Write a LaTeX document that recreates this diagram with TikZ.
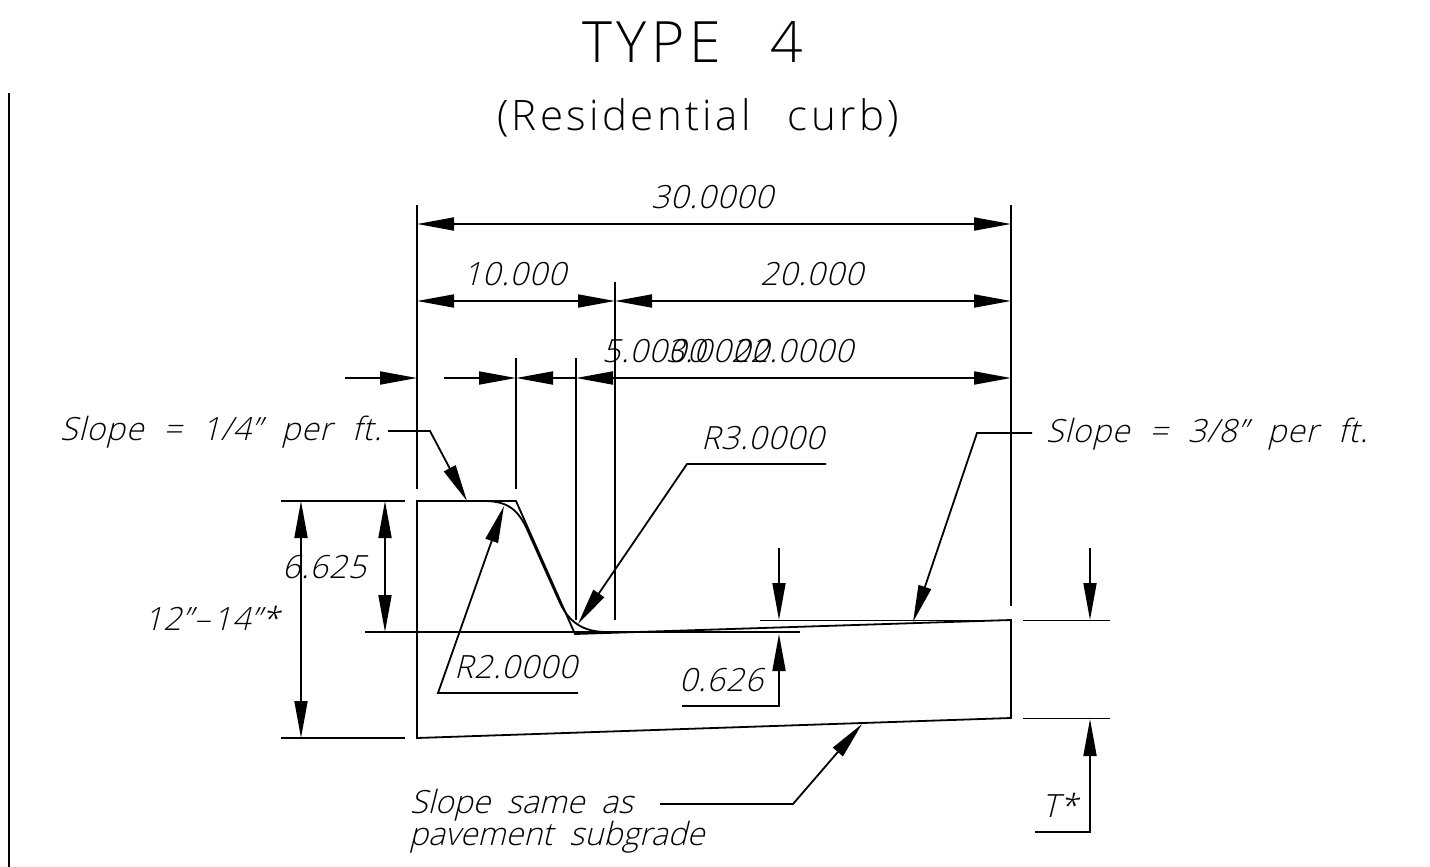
\documentclass[tikz,border=0pt]{standalone}
\usepackage{fontspec}
\usetikzlibrary{arrows.meta}
\newfontfamily\cadtitle[LetterSpace=8,WordSpace=2.5]{Open Sans Light}
\newfontfamily\cadsub[LetterSpace=8,WordSpace=2.6]{Open Sans Light}
\newfontfamily\cadit[FakeSlant=0.25,LetterSpace=2.5,WordSpace=2.2]{Open Sans Light}
\newfontfamily\caditb[FakeSlant=0.25,LetterSpace=0,WordSpace=2]{Open Sans Light}
\tikzset{
  x=1pt,y=-1pt,
  cad/.style={line width=1.8pt,line cap=butt,line join=miter,black},
  dimtip/.tip={Triangle[length=37pt,width=13pt,inset=0pt]},
  arr/.style={cad,-{dimtip}},
  both/.style={cad,{dimtip}-{dimtip}},
  lab/.style={anchor=base west,inner sep=0pt,font=\cadit\fontsize{32}{36}\selectfont},
  labb/.style={anchor=base west,inner sep=0pt,font=\caditb\fontsize{32}{36}\selectfont},
}
\begin{document}
\begin{tikzpicture}
\useasboundingbox (0,0) rectangle (1430,867);
% titles
\node[anchor=base west,inner sep=0pt,font=\cadtitle\fontsize{57}{60}\selectfont] (title) at (582,63) {TYPE 4};
\node[anchor=base west,inner sep=0pt,font=\cadsub\fontsize{42}{46}\selectfont] (subtitle) at (497,130) {(Residential curb)};
% border
\draw[cad] (9,93) -- (9,867);
% extension lines
\draw[cad] (417,205) -- (417,489);
\draw[cad] (1011,205) -- (1011,606);
\draw[cad] (516,358) -- (516,489);
\draw[cad] (576,358) -- (576,620);
\draw[cad] (615,282) -- (615,620);
\draw[cad] (281,501) -- (405,501);
\draw[cad] (281,738) -- (405,738);
\draw[cad] (365,632) -- (800,632);
\draw[cad] (760,620.5) -- (1007,620.5);
\draw[cad] (1023,620.5) -- (1110,620.5);
\draw[cad] (1023,718.5) -- (1110,718.5);
% body
\draw[cad] (516,501) -- (417,501) -- (417,738) -- (1011,718) -- (1011,620) -- (575,634) -- cycle;
\draw[cad] (483,501) .. controls (505,501) and (516,507) .. (526,527) -- (560,603) .. controls (570,624) and (585,632) .. (607,632);
% dimensions
\draw[both] (417,224) -- (1011,224);
\draw[both] (417,301) -- (615,301);
\draw[both] (615,301) -- (1011,301);
\draw[arr] (345,378) -- (417,378);
\draw[arr] (444,378) -- (516,378);
\draw[arr] (576,378) -- (516,378);
\draw[arr] (615,378) -- (576,378);
\draw[arr] (615,378) -- (1011,378);
\draw[both] (301,501) -- (301,738);
\draw[both] (385,501) -- (385,632);
\draw[arr] (779,548) -- (779,620);
\draw[arr] (682,706) -- (779,706) -- (779,634);
\draw[arr] (1090,548) -- (1090,620);
\draw[arr] (1035,832) -- (1090,832) -- (1090,719);
% leaders
\draw[arr] (388,431) -- (430,431) -- (467,501);
\draw[arr] (826,464) -- (687,464) -- (578,624);
\draw[arr] (1032,433) -- (977,433) -- (913,622);
\draw[arr] (578,693) -- (438,693) -- (504,506);
\draw[arr] (660,804) -- (793,804) -- (862,724);
% labels
\node[lab] (d30) at (651,208) {30.0000};
\node[lab] (d10) at (463,285) {10.000};
\node[lab] (d20) at (760,285) {20.000};
\node[lab] (d5) at (602,362) {5.0000};
\node[lab] (d3) at (666,362) {3.0000};
\node[lab] (d22) at (731,362) {22.0000};
\node[lab] (s14) at (60,440) {Slope = 1/4” per ft.};
\node[lab] (r3) at (701,449) {R3.0000};
\node[lab] (s38) at (1046,442) {Slope = 3/8” per ft.};
\node[lab] (d6) at (282,578) {6.625};
\node[lab] (d12) at (144,630) {12”\kern2pt–\kern3pt14”*};
\node[lab] (r2) at (454,678) {R2.0000};
\node[lab] (d0) at (679,691) {0.626};
\node[lab] (tstar) at (1042,817) {T*};
\node[labb] (same) at (410,813) {Slope same as};
\node[labb] (pave) at (409,845) {pavement subgrade};
\end{tikzpicture}
\end{document}
